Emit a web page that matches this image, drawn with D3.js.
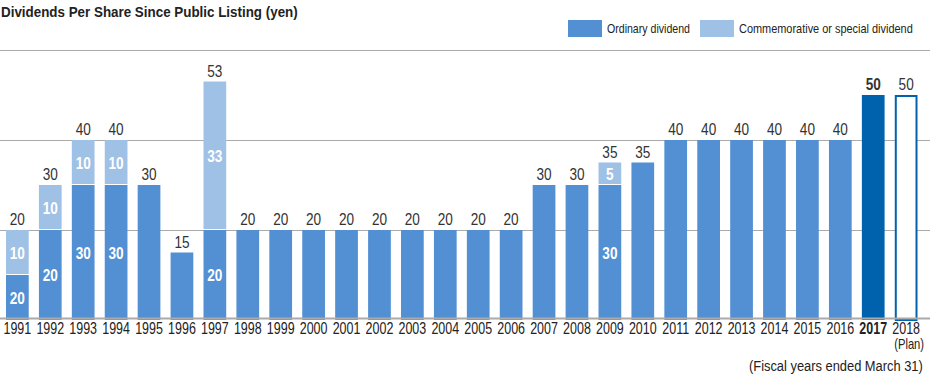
<!DOCTYPE html>
<meta charset="utf-8">
<style>
body { margin: 0; background: #fff; }
svg { font-family: "Liberation Sans", Arial, sans-serif; display: block; }
.grid line { stroke: #aaa; stroke-width: 1; }
.year { font-size: 16px; fill: #222; }
.total { font-size: 16px; fill: #333; }
.inner { font-size: 16px; fill: #fff; font-weight: bold; }
</style>
<svg width="930" height="380"></svg>
<script src="https://cdn.jsdelivr.net/npm/d3@7"></script>
<script>

var years = ["1991","1992","1993","1994","1995","1996","1997","1998","1999","2000","2001","2002","2003","2004","2005","2006","2007","2008","2009","2010","2011","2012","2013","2014","2015","2016","2017","2018"];
var ordinary = [10,20,30,30,30,15,20,20,20,20,20,20,20,20,20,20,30,30,30,35,40,40,40,40,40,40,50,50];
var special  = [10,10,10,10,0,0,33,0,0,0,0,0,0,0,0,0,0,0,5,0,0,0,0,0,0,0,0,0];
var totals   = [20,30,40,40,30,15,53,20,20,20,20,20,20,20,20,20,30,30,35,35,40,40,40,40,40,40,50,50];
// labels printed inside the ordinary part of split bars
var ordinaryLabels = [20,20,30,30,null,null,20,null,null,null,null,null,null,null,null,null,null,null,30,null,null,null,null,null,null,null,null,null];
var gridTicks = [20, 40, 60];

var svg = d3.select("svg");

var blue = "#528fd3", light = "#a0c1e6", dark = "#0062ad";

var x = d3.scaleBand()
    .domain(years)
    .range([6, 917.5])
    .paddingInner(0.31)
    .paddingOuter(0);

var y = d3.scaleLinear()
    .domain([0, 60])
    .range([320, 50]);

// condensed look: squeeze text horizontally
function label(g, px, py, txt, cls, sx) {
  return g.append("text")
      .attr("class", cls)
      .attr("text-anchor", "middle")
      .attr("transform", "translate(" + px + "," + py + ") scale(" + sx + ",1)")
      .text(txt);
}

// left-anchored text squeezed to a given width
function fitted(px, py, txt, size, w, bold) {
  var t = svg.append("text")
      .style("font-size", size + "px").style("fill", "#222")
      .style("font-weight", bold ? "bold" : "normal")
      .text(txt);
  var s = w / t.node().getComputedTextLength();
  t.attr("transform", "translate(" + px + "," + py + ") scale(" + s + ",1)");
  return t;
}

// title
fitted(1, 17, "Dividends Per Share Since Public Listing (yen)", 14, 297, true);

// legend
var legend = [["Ordinary dividend", blue, 568, 83], ["Commemorative or special dividend", light, 700, 174]];
legend.forEach(function(l) {
  svg.append("rect").attr("x", l[2]).attr("y", 20).attr("width", 34).attr("height", 17).attr("fill", l[1]);
  fitted(l[2] + 39, 33, l[0], 13, l[3], false);
});

// gridlines
svg.append("g").attr("class", "grid")
  .selectAll("line").data(gridTicks).enter().append("line")
    .attr("x1", 0).attr("x2", 930)
    .attr("y1", function(d) { return Math.round(y(d)) + 0.5; })
    .attr("y2", function(d) { return Math.round(y(d)) + 0.5; });

// ordinary bars
svg.append("g").selectAll("rect")
    .data(years).enter().append("rect")
    .attr("x", function(d) { return x(d) + (d === "2018" ? 1 : 0); })
    .attr("width", function(d) { return x.bandwidth() - (d === "2018" ? 2 : 0); })
    .attr("y", function(d, i) { return y(ordinary[i]) + (d === "2018" ? 1 : 0); })
    .attr("height", function(d, i) { return y(0) - y(ordinary[i]) - (d === "2018" ? 1 : 0); })
    .attr("fill", function(d) { return d === "2017" ? dark : d === "2018" ? "#fff" : blue; })
    .attr("stroke", function(d) { return d === "2018" ? dark : "none"; })
    .attr("stroke-width", 2);

// special bars
svg.append("g").selectAll("rect")
    .data(years.filter(function(d, i) { return special[i] > 0; })).enter().append("rect")
    .attr("x", function(d) { return x(d); })
    .attr("width", x.bandwidth())
    .attr("y", function(d) { var i = years.indexOf(d); return y(ordinary[i] + special[i]); })
    .attr("height", function(d) { var i = years.indexOf(d); return y(ordinary[i]) - y(ordinary[i] + special[i]) - 1; })
    .attr("fill", light);

// baseline
svg.append("line")
    .attr("x1", 0).attr("x2", 930).attr("y1", 318.5).attr("y2", 318.5)
    .attr("stroke", "#aaa").attr("stroke-width", 2);

// totals
var tg = svg.append("g");
years.forEach(function(d, i) {
  label(tg, x(d) + x.bandwidth() / 2, y(totals[i]) - 5, totals[i], "total", 0.85)
      .style("font-weight", d === "2017" ? "bold" : "normal");
});

// inner labels for split bars
var inner = svg.append("g");
years.forEach(function(d, i) {
  if (!(special[i] > 0)) return;
  var cx = x(d) + x.bandwidth() / 2;
  label(inner, cx, (y(0) + y(ordinary[i])) / 2 + 6, ordinaryLabels[i], "inner", 0.85);
  label(inner, cx, (y(ordinary[i]) + y(ordinary[i] + special[i])) / 2 + 6, special[i], "inner", 0.85);
});

// year labels
var yg = svg.append("g");
years.forEach(function(d) {
  label(yg, x(d) + x.bandwidth() / 2, 334, d, "year", 0.78)
      .style("font-weight", d === "2017" ? "bold" : "normal");
});

label(svg, x("2018") + x.bandwidth() / 2 + 3, 349, "(Plan)", "year", 0.8).style("font-size", "14px");

fitted(749, 371, "(Fiscal years ended March 31)", 14, 174, false);

</script>
